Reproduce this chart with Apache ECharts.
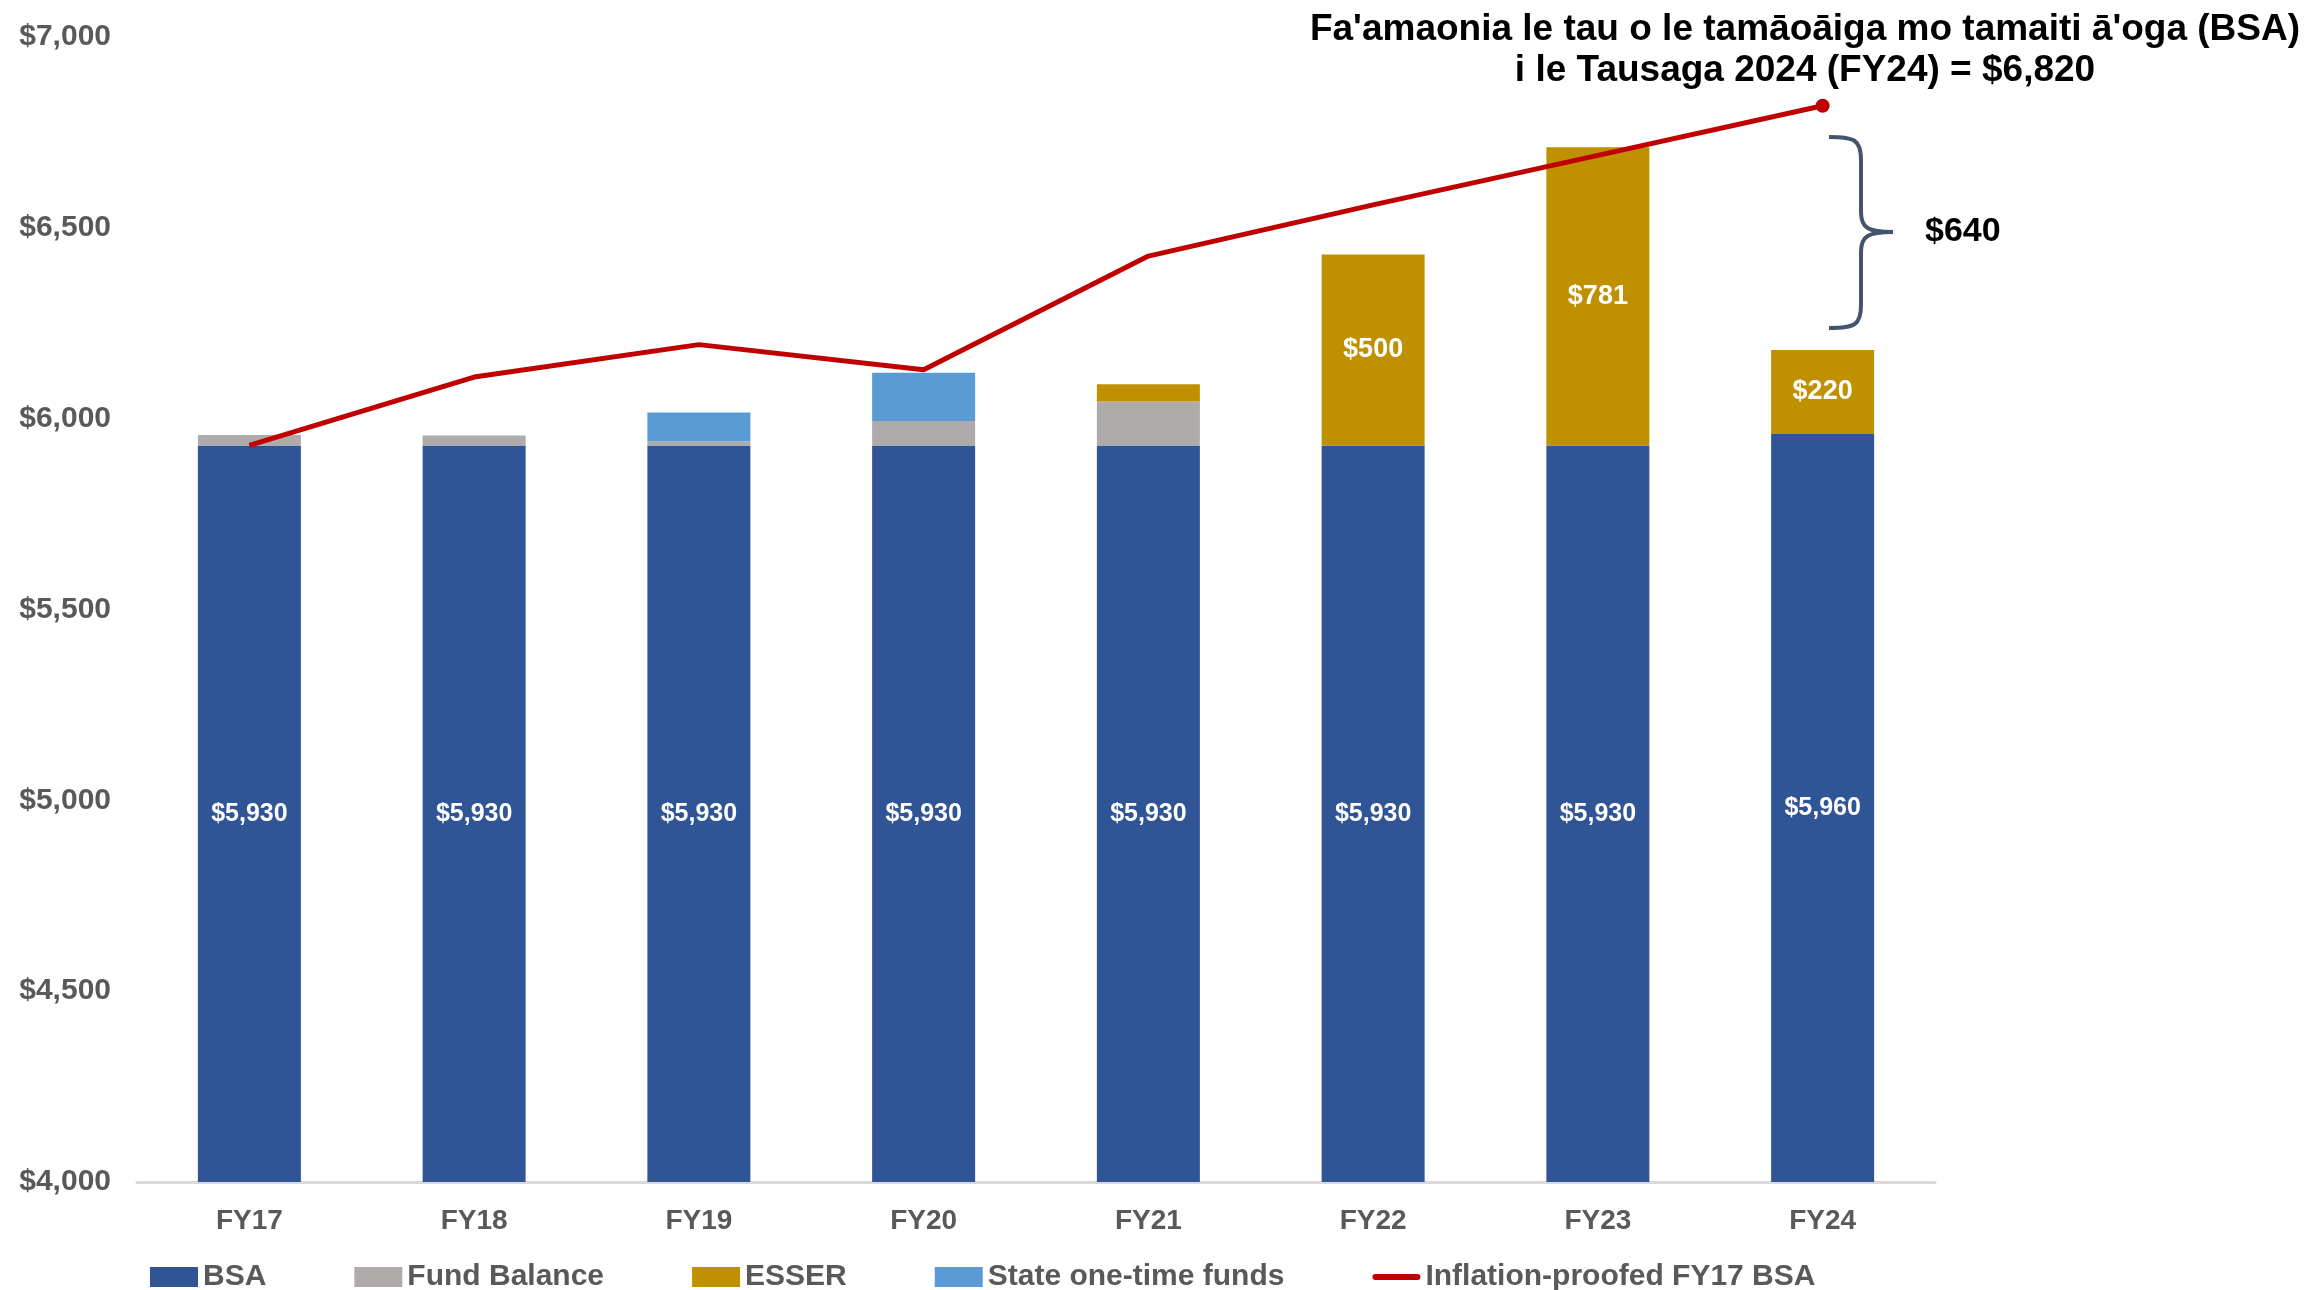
<!DOCTYPE html>
<html>
<head>
<meta charset="utf-8">
<script src="https://cdn.jsdelivr.net/npm/echarts@6/dist/echarts.min.js"></script>
<style>
  html, body { margin: 0; padding: 0; background: #fff; }
  #chart { width: 2316px; height: 1290px; }
</style>
</head>
<body>
<div id="chart"></div>
<script>
const categories = ['FY17', 'FY18', 'FY19', 'FY20', 'FY21', 'FY22', 'FY23', 'FY24'];
const bsa = [5930, 5930, 5930, 5930, 5930, 5930, 5930, 5960];
const fundBalance = [27, 26, 10, 64, 115, 0, 0, 0];
const esser = [0, 0, 0, 0, 45, 500, 781, 220];
const stateOneTime = [0, 0, 76, 126, 0, 0, 0, 0];
const inflationBsa = [5930, 6109, 6194, 6128, 6426, 6560, 6690, 6820];

const font = 'Liberation Sans';
const grey = '#595959';
const money = v => '$' + Number(v).toLocaleString('en-US');

const chart = echarts.init(document.getElementById('chart'));

// curly brace next to FY24, drawn as a few strokes
const braceStyle = { stroke: '#44546A', lineWidth: 4, fill: 'none' };
const brace = [
  { type: 'bezierCurve', shape: { x1: 1829, y1: 137, cpx1: 1855, cpy1: 137, cpx2: 1861, cpy2: 140, x2: 1861, y2: 160 }, style: braceStyle },
  { type: 'line', shape: { x1: 1861, y1: 160, x2: 1861, y2: 212 }, style: braceStyle },
  { type: 'bezierCurve', shape: { x1: 1861, y1: 212, cpx1: 1861, cpy1: 228, cpx2: 1868, cpy2: 232, x2: 1893, y2: 232 }, style: braceStyle },
  { type: 'bezierCurve', shape: { x1: 1893, y1: 232, cpx1: 1868, cpy1: 232, cpx2: 1861, cpy2: 236, x2: 1861, y2: 252 }, style: braceStyle },
  { type: 'line', shape: { x1: 1861, y1: 252, x2: 1861, y2: 305 }, style: braceStyle },
  { type: 'bezierCurve', shape: { x1: 1861, y1: 305, cpx1: 1861, cpy1: 325, cpx2: 1855, cpy2: 328, x2: 1829, y2: 328 }, style: braceStyle }
];

const lineIcon = 'path://M3,0 H45 A3,3 0 0 1 45,6 H3 A3,3 0 0 1 3,0 Z';

chart.setOption({
  animation: false,
  textStyle: { fontFamily: font },
  grid: { left: 137, right: 381, top: 37, bottom: 108 },
  legend: {
    left: 145,
    top: 1257,
    itemWidth: 48,
    itemHeight: 20,
    itemGap: 88,
    textStyle: { fontFamily: font, fontSize: 30, fontWeight: 'bold', color: grey },
    data: [
      { name: 'BSA', icon: 'rect' },
      { name: 'Fund Balance', icon: 'rect' },
      { name: 'ESSER', icon: 'rect' },
      { name: 'State one-time funds', icon: 'rect' },
      { name: 'Inflation-proofed FY17 BSA', icon: lineIcon }
    ]
  },
  xAxis: {
    type: 'category',
    data: categories,
    axisLine: { lineStyle: { color: '#D9D9D9', width: 3 } },
    axisTick: { show: false },
    axisLabel: { margin: 25, fontSize: 28, fontWeight: 'bold', color: grey, fontFamily: font }
  },
  yAxis: {
    type: 'value',
    min: 4000,
    max: 7000,
    interval: 500,
    splitLine: { show: false },
    axisLine: { show: false },
    axisLabel: { margin: 26, fontSize: 30, fontWeight: 'bold', color: grey, fontFamily: font, formatter: money }
  },
  series: [
    {
      name: 'BSA', type: 'bar', stack: 'total', barWidth: 103,
      itemStyle: { color: '#2F5597' },
      label: { show: true, position: 'inside', color: '#fff', fontSize: 25, fontWeight: 'bold', fontFamily: font,
        formatter: p => money(p.value) },
      data: bsa
    },
    {
      name: 'Fund Balance', type: 'bar', stack: 'total', barWidth: 103,
      itemStyle: { color: '#AFABAB' },
      data: fundBalance
    },
    {
      name: 'ESSER', type: 'bar', stack: 'total', barWidth: 103,
      itemStyle: { color: '#BF9000' },
      label: { show: true, position: 'inside', color: '#fff', fontSize: 27, fontWeight: 'bold', fontFamily: font,
        formatter: p => p.value >= 200 ? money(p.value) : '' },
      data: esser
    },
    {
      name: 'State one-time funds', type: 'bar', stack: 'total', barWidth: 103,
      itemStyle: { color: '#5B9BD5' },
      data: stateOneTime
    },
    {
      name: 'Inflation-proofed FY17 BSA', type: 'line',
      symbol: 'none',
      lineStyle: { color: '#C00000', width: 5 },
      itemStyle: { color: '#C00000' },
      z: 5,
      markPoint: {
        symbol: 'circle',
        symbolSize: 14,
        itemStyle: { color: '#C00000' },
        label: { show: false },
        data: [{ type: 'max' }]
      },
      data: inflationBsa
    }
  ],
  graphic: [
    {
      type: 'text',
      style: {
        text: "Fa'amaonia le tau o le tamāoāiga mo tamaiti ā'oga (BSA)\ni le Tausaga 2024 (FY24) = $6,820",
        x: 1805, y: 9, textAlign: 'center', fill: '#000',
        font: 'bold 37px "Liberation Sans"', lineHeight: 41
      }
    },
    {
      type: 'text',
      style: { text: '$640', x: 1925, y: 232, textVerticalAlign: 'middle', fill: '#000', font: 'bold 34px "Liberation Sans"' }
    }
  ].concat(brace)
});
</script>
</body>
</html>
